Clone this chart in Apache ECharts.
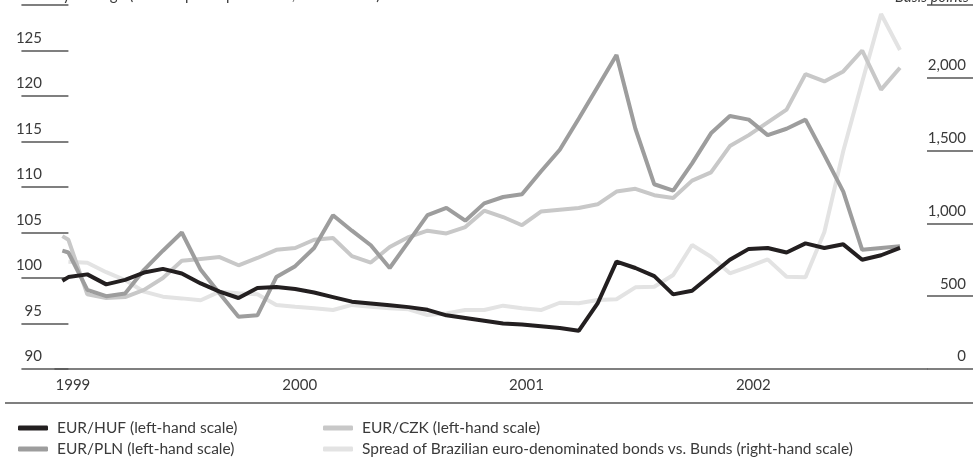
<!DOCTYPE html>
<html><head><meta charset="utf-8">
<script src="https://cdn.jsdelivr.net/npm/echarts@6/dist/echarts.min.js"></script>
<style>html,body{margin:0;padding:0;background:#fff}#c{width:973px;height:457px}</style>
</head><body><div id="c"></div>
<script>
// month index (0 = January 1999); first point is the start-of-period observation
const months = [-0.32, 0, 1, 2, 3, 4, 5, 6, 7, 8, 9, 10, 11, 12, 13, 14, 15, 16, 17, 18, 19, 20, 21, 22, 23,
  24, 25, 26, 27, 28, 29, 30, 31, 32, 33, 34, 35, 36, 37, 38, 39, 40, 41, 42, 43, 44];
const yearTicks = [0, 12, 24, 36];
const yearLabels = ['1999', '2000', '2001', '2002'];

const seriesNames = ['EUR/HUF (left-hand scale)', 'EUR/PLN (left-hand scale)', 'EUR/CZK (left-hand scale)',
  'Spread of Brazilian euro-denominated bonds vs. Bunds (right-hand scale)'];

const eurHuf = [99.7, 100.1, 100.4, 99.3, 99.8, 100.6, 101.0, 100.5, 99.4, 98.5, 97.8, 98.9, 99.0, 98.8, 98.4, 97.9,
  97.4, 97.2, 97.0, 96.8, 96.5, 95.9, 95.6, 95.3, 95.0, 94.9, 94.7, 94.5, 94.2, 97.2, 101.8, 101.1, 100.2, 98.2,
  98.6, 100.3, 102.0, 103.2, 103.3, 102.8, 103.8, 103.3, 103.7, 102.0, 102.5, 103.3];
const eurPln = [103.0, 102.8, 98.7, 98.0, 98.3, 100.9, 103.0, 105.0, 100.9, 98.3, 95.75, 95.9, 100.1, 101.3, 103.3,
  106.9, 105.2, 103.6, 101.1, 104.0, 106.9, 107.7, 106.3, 108.2, 108.9, 109.2, 111.7, 114.1, 117.5, 121.0, 124.5,
  116.4, 110.3, 109.6, 112.6, 115.9, 117.8, 117.4, 115.7, 116.4, 117.4, 113.5, 109.5, 103.1, 103.3, 103.5];
const eurCzk = [104.6, 104.2, 98.2, 97.8, 97.9, 98.7, 100.0, 101.9, 102.1, 102.3, 101.4, 102.2, 103.1, 103.3, 104.2,
  104.4, 102.4, 101.7, 103.4, 104.5, 105.2, 104.9, 105.6, 107.4, 106.7, 105.8, 107.3, 107.5, 107.7, 108.1, 109.5,
  109.8, 109.1, 108.8, 110.7, 111.6, 114.5, 115.7, 117.1, 118.5, 122.4, 121.6, 122.7, 125.0, 120.7, 123.1];
const brazilSpread = [null, 737, 730, 665, 611, 531, 497, 485, 472, 531, 520, 513, 440, 428, 417, 405, 440, 428, 417,
  410, 371, 382, 405, 405, 435, 417, 405, 455, 451, 474, 479, 561, 565, 646, 852, 771, 657, 703, 753, 634, 630, 941,
  1497, 1971, 2438, 2191];

const leftTitle = 'Monthly average (index: up = depreciation, 1999 = 100)';
const rightTitle = 'Basis points';

const colors = ['#231f20', '#9d9d9d', '#c8c8c8', '#e3e3e3'];
const FONT = 'Lato, "Open Sans", sans-serif';
const TEXT = '#3a3a3a';
const RULE = '#555555';

function pairs(vals) { return months.map((m, i) => [m, vals[i]]); }
function fmtThousands(v) { return String(v).replace(/\B(?=(\d{3})+(?!\d))/g, ','); }
function legendAt(name, left, top) {
  return {
    data: [name], left: left, top: top, orient: 'horizontal',
    itemWidth: 30, itemHeight: 5, icon: 'roundRect', padding: 0,
    textStyle: { fontFamily: FONT, fontSize: 15.5, color: TEXT, lineHeight: 16, padding: [0, 0, 0, 4] }
  };
}

const chart = echarts.init(document.getElementById('c'));
chart.setOption({
  animation: false,
  color: colors,
  grid: { left: 55, right: 46, top: 5, bottom: 88 },
  xAxis: {
    type: 'value', min: -0.71, max: 45.43,
    splitLine: { show: false },
    axisLine: { show: true, onZero: false, lineStyle: { color: RULE, width: 1.5 } },
    axisTick: { show: false },
    axisLabel: {
      customValues: yearTicks,
      formatter: v => yearLabels[yearTicks.indexOf(v)] || '',
      fontFamily: FONT, fontSize: 15, color: TEXT, margin: 9, padding: [0, 0, 0, 9]
    }
  },
  yAxis: [{
    type: 'value', min: 90, max: 130, interval: 5, position: 'left',
    splitLine: { show: false }, axisLine: { show: false },
    axisTick: { show: true, length: 47, lineStyle: { color: RULE, width: 1.5 } },
    axisLabel: {
      formatter: v => v === 130 ? '' : String(v),
      fontFamily: FONT, fontSize: 15, color: TEXT, margin: 13,
      verticalAlign: 'bottom', lineHeight: 15, padding: [0, 0, 5, 0]
    }
  }, {
    type: 'value', min: 0, max: 2500, interval: 500, position: 'right',
    splitLine: { show: false }, axisLine: { show: false },
    axisTick: { show: true, length: 46, lineStyle: { color: RULE, width: 1.5 } },
    axisLabel: {
      formatter: v => v === 2500 ? '' : fmtThousands(v),
      fontFamily: FONT, fontSize: 15, color: TEXT, margin: 39, align: 'right',
      verticalAlign: 'bottom', lineHeight: 15, padding: [0, 0, 5, 0]
    }
  }],
  legend: [
    legendAt(seriesNames[0], 18, 420),
    legendAt(seriesNames[1], 18, 441),
    legendAt(seriesNames[2], 323, 420),
    legendAt(seriesNames[3], 323, 441)
  ],
  graphic: [
    { type: 'line', shape: { x1: 5, y1: 403, x2: 973, y2: 403 }, style: { stroke: RULE, lineWidth: 1.5 } },
    { type: 'text', left: 15, top: -12, style: { text: leftTitle, font: '15px ' + FONT, fill: TEXT } },
    { type: 'text', right: 4, top: -10, style: { text: rightTitle, font: 'italic 15px ' + FONT, fill: TEXT } }
  ],
  series: [
    { name: seriesNames[3], type: 'line', yAxisIndex: 1, data: pairs(brazilSpread), showSymbol: false, z: 1,
      lineStyle: { width: 4, color: colors[3] }, itemStyle: { color: colors[3] } },
    { name: seriesNames[2], type: 'line', data: pairs(eurCzk), showSymbol: false, z: 2,
      lineStyle: { width: 4, color: colors[2] }, itemStyle: { color: colors[2] } },
    { name: seriesNames[1], type: 'line', data: pairs(eurPln), showSymbol: false, z: 3,
      lineStyle: { width: 4, color: colors[1] }, itemStyle: { color: colors[1] } },
    { name: seriesNames[0], type: 'line', data: pairs(eurHuf), showSymbol: false, z: 4,
      lineStyle: { width: 4, color: colors[0] }, itemStyle: { color: colors[0] } }
  ]
});
</script></body></html>
